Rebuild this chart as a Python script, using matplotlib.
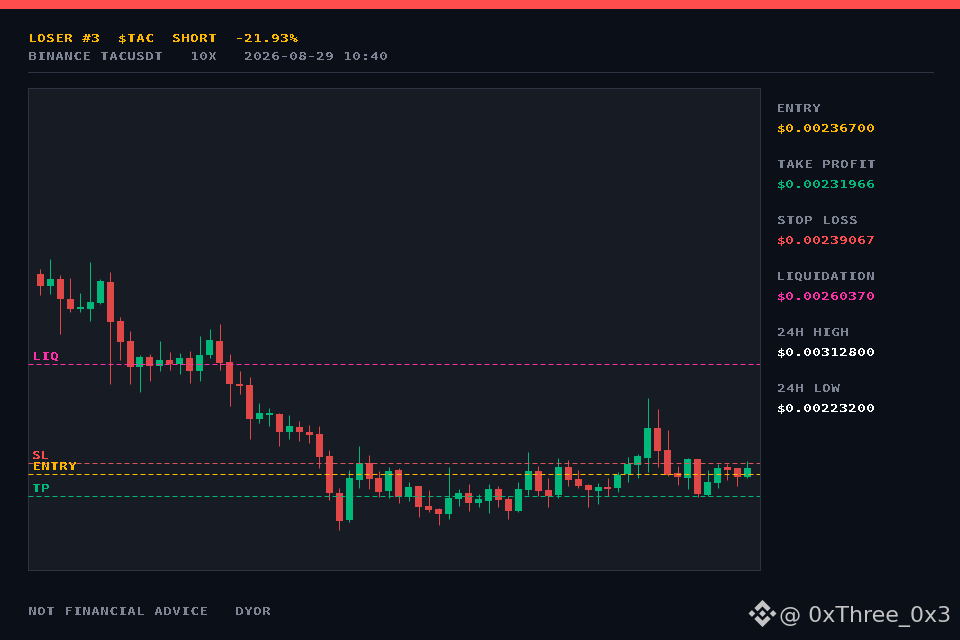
#!/usr/bin/env python3

import numpy as np
import matplotlib
matplotlib.use('Agg')
import matplotlib.pyplot as plt
from matplotlib.font_manager import FontProperties, findfont
from matplotlib.patches import Polygon, Rectangle
from fontTools.ttLib import TTFont

# candles, prices in units of 1e-7
opens = [27980, 27722, 27873, 27442, 27227, 27227, 27356, 27808, 26969, 26539, 25979, 26194,
         26001, 26130, 26044, 26173, 25893, 26237, 26539, 26087, 25613, 25592, 24860, 24946,
         24968, 24580, 24688, 24580, 24537, 24064, 23268, 22687, 23547, 23913, 23590, 23311,
         23763, 23182, 23418, 22988, 22923, 22816, 23138, 23268, 23052, 23095, 23354, 23138,
         22880, 23332, 23741, 23332, 23225, 23827, 23569, 23440, 23311, 23397, 23375, 23676,
         23870, 24021, 24666, 24193, 23698, 23590, 23999, 23225, 23483, 23827, 23806, 23612]
highs = [28088, 28303, 27959, 27894, 27572, 28239, 27873, 28023, 27055, 26754, 26237, 26259,
         26539, 26302, 26280, 26323, 26646, 26797, 26904, 26259, 25893, 25764, 25204, 25097,
         24989, 24946, 24817, 24731, 24709, 24193, 23375, 23763, 24279, 24085, 23741, 23827,
         23806, 23504, 23418, 23332, 22945, 23827, 23354, 23461, 23246, 23461, 23418, 23203,
         23504, 24150, 23849, 23590, 24021, 23978, 23763, 23461, 23483, 23590, 23720, 24042,
         24107, 25312, 25075, 24623, 23849, 24021, 23999, 23763, 23892, 23892, 23806, 23956]
lows = [27529, 27550, 26689, 27163, 27163, 26969, 27335, 25613, 26130, 25613, 25441, 25678,
        25893, 25915, 25828, 25635, 25678, 26173, 25915, 25140, 25398, 24430, 24774, 24709,
        24279, 24430, 24387, 24344, 23806, 23117, 22471, 22644, 23375, 23354, 23182, 23160,
        23052, 23095, 22751, 22859, 22579, 22708, 22988, 22880, 22966, 22837, 22966, 22708,
        22859, 23225, 23203, 22966, 23160, 23418, 23375, 22966, 23031, 23203, 23289, 23504,
        23590, 23720, 23827, 23633, 23440, 23354, 23182, 23203, 23375, 23547, 23418, 23590]
closes = [27722, 27873, 27442, 27227, 27270, 27378, 27830, 26948, 26517, 25979, 26194, 26001,
          26130, 26044, 26173, 25893, 26237, 26560, 26065, 25613, 25570, 24860, 24989, 24989,
          24580, 24709, 24580, 24516, 24042, 23268, 22665, 23590, 23913, 23569, 23289, 23741,
          23182, 23397, 22966, 22902, 22816, 23160, 23268, 23052, 23138, 23354, 23117, 22880,
          23354, 23741, 23311, 23203, 23827, 23547, 23418, 23332, 23397, 23354, 23655, 23892,
          24064, 24666, 24171, 23655, 23612, 23999, 23246, 23504, 23806, 23763, 23612, 23806]

# level lines
level_names = ['LIQ', 'SL', 'ENTRY', 'TP']
level_prices = [0.00260370, 0.00239067, 0.00236700, 0.00231966]
level_colors = ['#FF2FA8', '#D9565C', '#FFB800', '#00B87A']
level_text_colors = ['#FF2FA8', '#FF4D4D', '#FFB800', '#00B87A']

# side panel
stat_names = ['ENTRY', 'TAKE PROFIT', 'STOP LOSS', 'LIQUIDATION', '24H HIGH', '24H LOW']
stat_values = ['$0.00236700', '$0.00231966', '$0.00239067', '$0.00260370', '$0.00312800', '$0.00223200']
stat_colors = ['#FFB800', '#00B87A', '#FF4D4D', '#FF2FA8', '#FFFFFF', '#FFFFFF']

BG = '#0B0F17'
PANEL = '#161B24'
EDGE = '#2C3442'
GREY = '#7D8494'
UP = '#00B87A'
DOWN = '#E04848'


def make_wide_font(path='wide_mono.ttf', stretch=1.45, advance=1920):
    # no pixel font here, so widen DejaVu Sans Mono Bold to the same letter pitch
    font = TTFont(findfont(FontProperties(family='DejaVu Sans Mono', weight='bold')))
    for tag in ('fpgm', 'prep', 'cvt ', 'hdmx', 'VDMX', 'LTSH'):
        if tag in font:
            del font[tag]
    glyf = font['glyf']
    hmtx = font['hmtx']
    for name in font.getGlyphOrder():
        glyph = glyf[name]
        width = hmtx[name][0]
        shift = (advance - width * stretch) / 2
        if glyph.isComposite():
            for comp in glyph.components:
                comp.x = int(comp.x * stretch)
            continue
        if glyph.numberOfContours > 0:
            glyph.coordinates.scale((stretch, 1))
            glyph.coordinates.translate((shift, 0))
            glyph.coordinates.toInt()
            if hasattr(glyph, 'program'):
                glyph.program.fromBytecode(b'')
    for name in font.getGlyphOrder():
        glyph = glyf[name]
        glyph.recalcBounds(glyf)
        hmtx[name] = (advance, getattr(glyph, 'xMin', 0) or 0)
    font['hhea'].advanceWidthMax = advance
    font['OS/2'].xAvgCharWidth = advance
    font.save(path)
    return FontProperties(fname=path, size=6.9)


def plot():
    plt.rcParams['lines.scale_dashes'] = False
    pixel_font = make_wide_font()

    fig = plt.figure(figsize=(9.6, 6.4), dpi=100, facecolor=BG)

    # page furniture in pixel coordinates
    page = fig.add_axes([0, 0, 1, 1])
    page.set_xlim(0, 960)
    page.set_ylim(640, 0)
    page.axis('off')

    def label(x, y, text, color):
        page.text(x, y, text, color=color, fontproperties=pixel_font, va='baseline',
                  parse_math=False, antialiased=False)

    page.add_patch(Rectangle((0, 0), 960, 9, color='#FF4D4D', lw=0))
    label(27.6, 42, 'LOSER #3  $TAC  SHORT  -21.93%', '#FFB800')
    label(28, 60, 'BINANCE TACUSDT   10X   2026-08-29 10:40', GREY)
    page.plot([28, 932.6], [72.2, 72.2], color=EDGE, lw=0.72)

    for i, (name, value, color) in enumerate(zip(stat_names, stat_values, stat_colors)):
        label(776.6, 112 + 56 * i, name, GREY)
        label(776.6, 132 + 56 * i, value, color)

    label(28, 615, 'NOT FINANCIAL ADVICE   DYOR', GREY)

    # watermark
    logo_x, logo_y, logo_r = 762.5, 613.5, 13.6
    chevron = np.array([(0, -1), (0.6, -0.4), (0.36, -0.16), (0, -0.52), (-0.36, -0.16), (-0.6, -0.4)])
    diamond = np.array([(0, -0.25), (0.25, 0), (0, 0.25), (-0.25, 0)])
    shapes = [chevron, chevron * [1, -1], diamond, diamond + [0.78, 0], diamond - [0.78, 0]]
    for shape in shapes:
        page.add_patch(Polygon(shape * logo_r + [logo_x, logo_y], color='#C4C4C4', lw=0))
    page.text(951, 622, '@ 0xThree_0x3', color='#C4C4C4', family='DejaVu Sans', fontsize=15.9,
              ha='right', va='baseline')

    # chart
    ax = fig.add_axes([28.2 / 960, 1 - 570.2 / 640, 732 / 960, 482 / 640], facecolor=PANEL)
    ax.set_xlim(-1.225, 72.285)
    ax.set_ylim(0.00216062, 0.00319789)
    ax.set_xticks([])
    ax.set_yticks([])
    for spine in ax.spines.values():
        spine.set_color(EDGE)
        spine.set_linewidth(0.72)

    o = np.array(opens) * 1e-7
    h = np.array(highs) * 1e-7
    l = np.array(lows) * 1e-7
    c = np.array(closes) * 1e-7
    x = np.arange(len(o))
    colors = [UP if b >= a else DOWN for a, b in zip(o, c)]

    ax.vlines(x, l, h, colors=colors, linewidth=0.72, zorder=2, snap=True)
    ax.bar(x, np.abs(c - o), bottom=np.minimum(o, c), width=7 / 9.958, color=colors, linewidth=0, zorder=3)

    for name, price, color, text_color in zip(level_names, level_prices, level_colors, level_text_colors):
        ax.axhline(price, color=color, lw=0.72, dashes=(3.6, 2.16), dash_capstyle='butt', zorder=4)
        ax.annotate(name, (0, price), xycoords=('axes fraction', 'data'), xytext=(2.9, 3.2),
                    textcoords='offset points', color=text_color, fontproperties=pixel_font,
                    va='baseline', zorder=5, antialiased=False)

    fig.savefig('out.png', dpi=100, facecolor=BG)


if __name__ == "__main__":
    plot()
